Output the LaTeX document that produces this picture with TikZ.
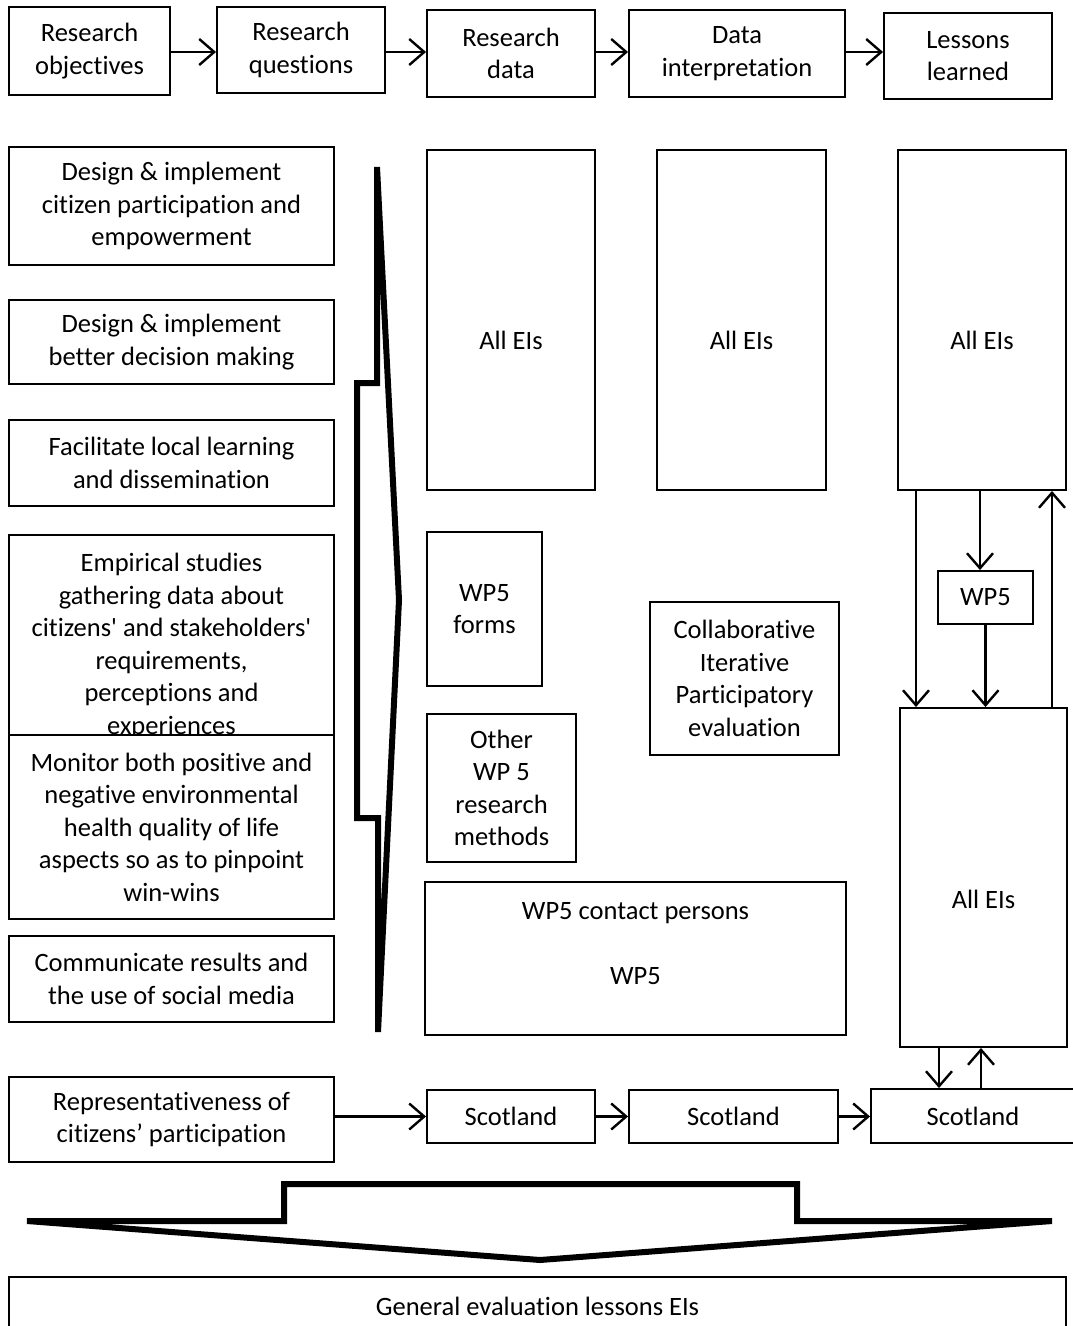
\documentclass[tikz,border=0pt]{standalone}
\usepackage{fontspec}
\setmainfont{Carlito}[RawFeature=-liga]
\usetikzlibrary{arrows.meta}
\begin{document}
\begin{tikzpicture}[x=1pt,y=-1pt,
  box/.style={draw, line width=1.9pt, fill=white, inner sep=0pt, align=center,
    font=\fontsize{26.5}{32.5}\selectfont},
  lbl/.style={inner sep=0pt, align=center, font=\fontsize{26.5}{32.5}\selectfont},
  arr/.style={line width=2.4pt, -{Straight Barb[length=15pt,width=26pt,line width=2.4pt]}},
  bigshape/.style={line width=6pt, line join=miter}]
\useasboundingbox (0,0) rectangle (1072,1326);

% top row
\node[box, minimum width=161pt, minimum height=88pt] (ro) at (89.5,51) {Research\\objectives};
\node[box, minimum width=168pt, minimum height=86pt] (rq) at (301,50) {Research\\questions};
\node[box, minimum width=168pt, minimum height=87pt] (rd) at (511,53.5) {Research\\data};
\node[box, minimum width=216pt, minimum height=87pt] (di) at (737,53.5) {Data\\interpretation};
\node[box, minimum width=168pt, minimum height=86pt] (ll) at (968,56) {Lessons\\learned};
\draw[arr] (ro.east |- 0,52) -- (rq.west |- 0,52);
\draw[arr] (rq.east |- 0,52) -- (rd.west |- 0,52);
\draw[arr] (rd.east |- 0,52) -- (di.west |- 0,52);
\draw[arr] (di.east |- 0,52) -- (ll.west |- 0,52);

% left column
\node[box, minimum width=325pt, minimum height=118pt] (o1) at (171.5,206) {Design \& implement\\citizen participation and\\empowerment};
\node[box, minimum width=325pt, minimum height=84pt] (o2) at (171.5,342) {Design \& implement\\better decision making};
\node[box, minimum width=325pt, minimum height=86pt] (o3) at (171.5,463) {Facilitate local learning\\and dissemination};
\node[box, minimum width=325pt, minimum height=200pt] (o4) at (171.5,635) {};
\node[lbl] (o4t) at (171.5,646) {Empirical studies\\gathering data about\\citizens\textquotesingle{} and stakeholders\textquotesingle\\requirements,\\perceptions and\\experiences};
\node[box, minimum width=325pt, minimum height=184pt] (o5) at (171.5,827) {Monitor both positive and\\negative environmental\\health quality of life\\aspects so as to pinpoint\\win-wins};
\node[box, minimum width=325pt, minimum height=86pt] (o6) at (171.5,979) {Communicate results and\\the use of social media};
\node[box, minimum width=325pt, minimum height=85pt] (o7) at (171.5,1119.5) {Representativeness of\\citizens’ participation};

% brace shape
\draw[bigshape] (377,167) -- (399,600) -- (378,1032) -- (378,818) -- (357,818) -- (357,383) -- (377,383) -- cycle;

% All EIs boxes
\node[box, minimum width=168pt, minimum height=340pt] (eiA) at (511,320) {};
\node[lbl] (eiAt) at (511,340) {All EIs};
\node[box, minimum width=169pt, minimum height=340pt] (eiB) at (741.5,320) {};
\node[lbl] (eiBt) at (741.5,340) {All EIs};
\node[box, minimum width=168pt, minimum height=340pt] (eiC) at (982,320) {};
\node[lbl] (eiCt) at (982,340) {All EIs};

% middle boxes
\node[box, minimum width=115pt, minimum height=154pt] (wpf) at (484.5,609) {WP5\\forms};
\node[box, minimum width=149pt, minimum height=148pt] (owp) at (501.5,788) {Other\\WP 5\\research\\methods};
\node[box, minimum width=189pt, minimum height=153pt] (cip) at (744.5,678.5) {Collaborative\\Iterative\\Participatory\\evaluation};
\node[box, minimum width=421pt, minimum height=153pt] (wcp) at (635.5,958.5) {};
\node[lbl] (wcpt) at (635.5,944) {WP5 contact persons\\[32.5pt]WP5};

% right column
\node[box, minimum width=95pt, minimum height=53pt] (wp5) at (985.5,597.5) {WP5};
\node[box, minimum width=167pt, minimum height=339pt] (eiD) at (983.5,877.5) {};
\node[lbl] (eiDt) at (983.5,899) {All EIs};

\coordinate (c916) at (916,0);
\coordinate (c980) at (980,0);
\coordinate (c1052) at (1052,0);
\coordinate (c939) at (939,0);
\coordinate (c981) at (981,0);
\draw[arr] (eiC.south -| c916) -- (eiD.north -| c916);
\draw[arr] (eiC.south -| c980) -- (wp5.north -| c980);
\draw[arr] (wp5.south) -- (wp5.south |- eiD.north);
\draw[arr] (eiD.north -| c1052) -- (eiC.south -| c1052);

% Scotland row
\node[box, minimum width=168pt, minimum height=53pt] (s1) at (511,1116.5) {Scotland};
\node[box, minimum width=209pt, minimum height=53pt] (s2) at (733.5,1116.5) {Scotland};
\node[box, minimum width=204pt, minimum height=54pt] (s3) at (973,1116) {Scotland};
\draw[arr] (s1.west -| o7.east) -- (s1.west);
\draw[arr] (s1.east) -- (s2.west);
\draw[arr] (s2.east) -- (s2.east -| s3.west);
\draw[arr] (eiD.south -| c939) -- (s3.north -| c939);
\draw[arr] (s3.north -| c981) -- (eiD.south -| c981);

% bottom big arrow
\draw[bigshape] (27,1221) -- (284,1221) -- (284,1184) -- (797,1184) -- (797,1221) -- (1052,1221) -- (540,1260) -- cycle;

\node[box, minimum width=1057pt, minimum height=60pt] (gen) at (537.5,1307) {};
\node[lbl] (gent) at (537.5,1306) {General evaluation lessons EIs};
\end{tikzpicture}
\end{document}
